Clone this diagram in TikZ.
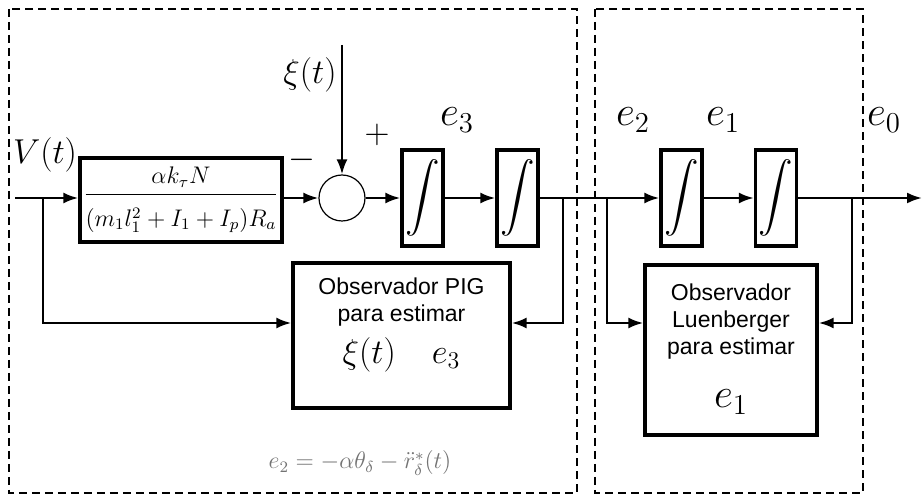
\documentclass[tikz,border=0pt]{standalone}
\usepackage{amsmath}
\usepackage{fontspec}
\newfontfamily\arialfont{Liberation Sans}
\usetikzlibrary{arrows.meta, positioning}

\begin{document}
\begin{tikzpicture}[
  x=0.5pt, y=-0.5pt,
  block/.style={draw, line width=1.7pt, inner sep=0pt, align=center},
  intbox/.style={block, minimum width=20.5pt, minimum height=48pt},
  obsbox/.style={block, font=\arialfont\fontsize{11.5}{13.5}\selectfont},
  arrow/.style={line width=1.2pt, -{Latex[length=7.5pt,width=5.5pt]}},
  region/.style={draw, line width=0.6pt, dash pattern=on 4pt off 2.5pt},
  sig/.style={font=\fontsize{20}{20}\selectfont}
]
\useasboundingbox (0,0) rectangle (923,497);

% zonas
\draw[region] (9,9) rectangle (577,493);
\draw[region] (595,9) rectangle (863,493);

% bloques de la cadena directa
\node[block, minimum width=101pt, minimum height=42pt, font=\fontsize{12}{12}\selectfont] (gain) at (181,200)
  {$\dfrac{\alpha k_\tau N\rule[-4pt]{0pt}{4pt}}{\rule{0pt}{14pt}(m_1 l_1^2 + I_1 + I_p)R_a}$};
\node[draw, circle, line width=0.6pt, minimum size=23pt, inner sep=0pt] (sum) at (342,198) {};
\node[intbox] (int1) at (422.5,198) {\fontsize{18}{18}\selectfont$\displaystyle\int$};
\node[intbox] (int2) at (517.5,198) {\fontsize{18}{18}\selectfont$\displaystyle\int$};
\node[intbox] (int3) at (681.5,198) {\fontsize{18}{18}\selectfont$\displaystyle\int$};
\node[intbox] (int4) at (776,198) {\fontsize{18}{18}\selectfont$\displaystyle\int$};

% observadores
\node[obsbox, minimum width=108.5pt, minimum height=72.5pt] (pig) at (401.5,335.5) {};
\node[font=\arialfont\fontsize{11.5}{13.5}\selectfont, align=center] (pigtxt) at (401.5,302)
  {Observador PIG\\para estimar};
\node[font=\fontsize{18}{18}\selectfont] (pigvar) at (401.5,355) {$\xi(t)\quad e_3$};
\node[obsbox, minimum width=86pt, minimum height=85pt] (lue) at (731,350) {};
\node[font=\arialfont\fontsize{11.5}{13.5}\selectfont, align=center] (luetxt) at (731,322)
  {Observador\\Luenberger\\para estimar};
\node[font=\fontsize{20}{20}\selectfont] (luevar) at (731,402) {$e_1$};

% etiquetas
\node[font=\fontsize{18}{18}\selectfont] (vlab) at (45,155) {$V(t)$};
\node[font=\fontsize{16}{16}\selectfont] (xilab) at (310,75) {$\xi(t)$};
\node[font=\fontsize{16}{16}\selectfont] (minus) at (302,160) {$-$};
\node[font=\fontsize{16}{16}\selectfont] (plus) at (377,135) {$+$};
\node[sig] (e3lab) at (457,120) {$e_3$};
\node[sig] (e2lab) at (633,120) {$e_2$};
\node[sig] (e1lab) at (723,120) {$e_1$};
\node[sig] (e0lab) at (884,120) {$e_0$};
\node[text=black!55, font=\fontsize{12}{12}\selectfont] (eq) at (360,463)
  {$e_2 = -\alpha\theta_\delta - \ddot{r}^{*}_{\delta}(t)$};

% puntos auxiliares
\coordinate (vin) at (15,198);
\coordinate (br1) at (43,198);
\coordinate (xitop) at (342,45);
\coordinate (br2) at (563,198);
\coordinate (br3) at (607,198);
\coordinate (br4) at (852,198);
\coordinate (out) at (922,198);
\coordinate (fb) at (0,323);

% conexiones
\draw[arrow] (vin) -- (vin -| gain.west);
\draw[arrow] (gain.east |- sum) -- (sum.west);
\draw[arrow] (xitop) -- (sum.north);
\draw[arrow] (sum.east) -- (int1.west);
\draw[arrow] (int1.east) -- (int2.west);
\draw[arrow] (int2.east) -- (int3.west);
\draw[arrow] (int3.east) -- (int4.west);
\draw[arrow] (int4.east) -- (out);
\draw[arrow] (br1) |- (fb -| pig.west);
\draw[arrow] (br2) |- (fb -| pig.east);
\draw[arrow] (br3) |- (fb -| lue.west);
\draw[arrow] (br4) |- (fb -| lue.east);
\end{tikzpicture}
\end{document}
